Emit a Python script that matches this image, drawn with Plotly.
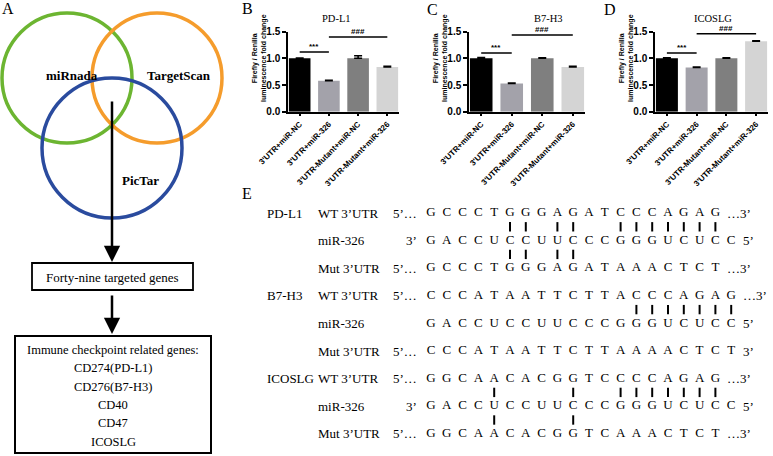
import plotly.graph_objects as go

W, H = 773, 456
SERIF = "Liberation Serif, Times New Roman, serif"
SANS = "Liberation Sans, Arial, sans-serif"

# ---- panels B-D: luciferase reporter assay ----
groups = ["3'UTR+miR-NC", "3'UTR+miR-326", "3'UTR-Mutant+miR-NC", "3'UTR-Mutant+miR-326"]
bar_colors = ["#000000", "#a3a2aa", "#7f7f7f", "#d4d4d4"]
genes = ["PD-L1", "B7-H3", "ICOSLG"]
pdl1_vals = [1.0, 0.58, 1.0, 0.84]
pdl1_err = [0.005, 0.01, 0.05, 0.01]
b7h3_vals = [1.0, 0.53, 1.0, 0.84]
b7h3_err = [0.015, 0.01, 0.01, 0.01]
icoslg_vals = [1.0, 0.83, 1.0, 1.32]
icoslg_err = [0.01, 0.01, 0.01, 0.01]
star_y = [1.12, 1.10, 1.10]
hash_y = [1.40, 1.44, 1.46]
y_ticks = [0.0, 0.5, 1.0, 1.5]

# ---- panel E: seed sequence alignment ----
seq_genes = ["PD-L1", "B7-H3", "ICOSLG"]
seq_labels = ["WT 3’UTR", "miR-326", "Mut 3’UTR"]
seq_pdl1 = ["GCCCTGGGAGATCCCAGAG", "GACCUCCUUCCCGGGUCUCC", "GCCCTGGGAGATAAACTCT"]
seq_b7h3 = ["CCCATAATTCTTACCCAGAG", "GACCUCCUUCCCGGGUCUCC", "CCCATAATTCTTAAAACTCT"]
seq_icoslg = ["GGCAACACGGTCCCCAGAG", "GACCUCCUUCCCGGGUCUCC", "GGCAACACGGTCAAACTCT"]
seq_left = [["5’…", "3’", "5’…"], ["5’…", "", "5’…"], ["5’…", "3’", "5’…"]]
seq_right = [["…3’", "5’", "…3’"], ["…3’", "5’", "3’"], ["…3’", "5’", "…3’"]]
pairs_wt = [[5, 6, 8, 9, 12, 13, 14, 15, 16, 17, 18],
            [13, 14, 15, 16, 17, 18, 19],
            [4, 9, 12, 13, 14, 15, 16, 17, 18]]
pairs_mut = [[5, 6, 8, 9], [], [4, 9]]

# ---- panel A: target prediction ----
venn_names = ["miRnada", "TargetScan", "PicTar"]
venn_colors = ["#6cb531", "#f59c2c", "#2a4b9e"]
gene_list = ["Immune checkpoint related genes:", "CD274(PD-L1)", "CD276(B7-H3)",
             "CD40", "CD47", "ICOSLG"]


def fx(p):
    return p / W


def fy(p):
    return 1 - p / H


def note(x, y, text, size, family=SERIF, bold=False, **kw):
    f = dict(family=family, size=size, color="black")
    if bold:
        f["weight"] = "bold"
    d = dict(x=x, y=y, xref="paper", yref="paper", text=text, showarrow=False,
             xanchor="center", yanchor="middle", font=f)
    d.update(kw)
    return d


fig = go.Figure()
shapes, annotations = [], []

# bar charts
panel_px = [(288, 399), (469, 585), (655, 768)]
title_px = [336, 548, 713]
vals_all = [pdl1_vals, b7h3_vals, icoslg_vals]
err_all = [pdl1_err, b7h3_err, icoslg_err]
for i in range(3):
    n = "" if i == 0 else str(i + 1)
    xa, ya = "x" + n, "y" + n
    fig.add_trace(go.Bar(
        x=[0, 1, 2, 3], y=vals_all[i], width=0.74,
        marker=dict(color=bar_colors, line=dict(width=0)),
        error_y=dict(type="data", array=err_all[i], arrayminus=[0] * 4,
                     symmetric=False, thickness=1.5, width=4, color="black"),
        xaxis=xa, yaxis=ya, hoverinfo="skip"))
    # significance brackets
    fig.add_trace(go.Scatter(x=[0, 1], y=[star_y[i]] * 2, mode="lines",
                             line=dict(color="black", width=1.5), xaxis=xa, yaxis=ya))
    fig.add_trace(go.Scatter(x=[1, 3], y=[hash_y[i]] * 2, mode="lines",
                             line=dict(color="black", width=1.5), xaxis=xa, yaxis=ya))
    for xm, ym, t in [(0.5, star_y[i], "***"), (2, hash_y[i], "###")]:
        annotations.append(dict(x=xm, y=ym, xref=xa, yref=ya, text=t,
                                showarrow=False, xanchor="center", yanchor="bottom",
                                yshift=-1,
                                font=dict(family=SANS, size=8, color="black", weight="bold")))
    x0, x1 = panel_px[i]
    fig.update_layout(**{
        "xaxis" + n: dict(domain=[fx(x0), fx(x1)], range=[-0.4, 3.4], anchor=ya,
                          tickvals=[0, 1, 2, 3], ticktext=groups, tickangle=-45,
                          tickfont=dict(family=SANS, size=8, color="black", weight="bold"),
                          showline=True, linecolor="black", linewidth=1.5,
                          ticks="outside", ticklen=3, tickwidth=1.5, tickcolor="black",
                          showgrid=False, zeroline=False, fixedrange=True,
                          automargin=False),
        "yaxis" + n: dict(domain=[fy(111.7), fy(31.7)], range=[0, 1.5], anchor=xa,
                          tickvals=y_ticks, ticktext=[f"{v:.1f}" for v in y_ticks],
                          tickfont=dict(family=SANS, size=10, color="black", weight="bold"),
                          showline=True, linecolor="black", linewidth=1.5,
                          ticks="outside", ticklen=4, tickwidth=1.5, tickcolor="black",
                          showgrid=False, zeroline=False, fixedrange=True,
                          automargin=False),
    })
    annotations.append(note(fx(title_px[i]), fy(18), genes[i], 10.5))
    annotations.append(note(fx(x0 - 29), fy(58),
                            "Firefly / Renilla<br>luminescence fold change", 7,
                            family=SANS, bold=True, textangle=-90))

# sequence alignment (column index / row index axes)
X0, DX, Y0, DY = 431, 15.8, 213, 27.6


def col(p):
    return (p - X0) / DX


def row(p):
    return (p - Y0) / DY


fig.update_layout(
    xaxis4=dict(domain=[fx(260), 1], range=[col(260), col(773)], visible=False,
                anchor="y4", fixedrange=True, automargin=False),
    yaxis4=dict(domain=[0, fy(190)], range=[row(456), row(190)], visible=False,
                anchor="x4", fixedrange=True, automargin=False),
)
seq_all = [seq_pdl1, seq_b7h3, seq_icoslg]
lx, ly, lt = [], [], []
bx, by = [], []
seq_font = dict(family=SERIF, size=13, color="black")
for g in range(3):
    for k in range(3):
        r = g * 3 + k
        s = seq_all[g][k]
        for c, ch in enumerate(s):
            lx.append(c)
            ly.append(r)
            lt.append(ch)
        if k == 0:
            annotations.append(dict(x=col(265), y=r, xref="x4", yref="y4", text=seq_genes[g],
                                    xanchor="left", yanchor="middle", showarrow=False,
                                    font=seq_font))
        annotations.append(dict(x=col(316), y=r, xref="x4", yref="y4", text=seq_labels[k],
                                xanchor="left", yanchor="middle", showarrow=False,
                                font=seq_font))
        if seq_left[g][k]:
            annotations.append(dict(x=-0.75, y=r, xref="x4", yref="y4", text=seq_left[g][k],
                                    xanchor="right", yanchor="middle", showarrow=False,
                                    font=seq_font))
        annotations.append(dict(x=len(s) - 1 + 0.6, y=r, xref="x4", yref="y4",
                                text=seq_right[g][k], xanchor="left", yanchor="middle",
                                showarrow=False, font=seq_font))
    for c in pairs_wt[g]:
        bx += [c, c, None]
        by += [g * 3 + 0.33, g * 3 + 0.67, None]
    for c in pairs_mut[g]:
        bx += [c, c, None]
        by += [g * 3 + 1.33, g * 3 + 1.67, None]

fig.add_trace(go.Scatter(x=lx, y=ly, text=lt, mode="text", textposition="middle center",
                         textfont=seq_font, xaxis="x4", yaxis="y4", hoverinfo="skip"))
fig.add_trace(go.Scatter(x=bx, y=by, mode="lines", line=dict(color="black", width=2),
                         xaxis="x4", yaxis="y4", hoverinfo="skip"))

# panel A: Venn diagram and flow
venn_circles = [(67, 78, 65), (157, 78, 65), (112, 148, 70)]
for (cx, cy, rr), colr in zip(venn_circles, venn_colors):
    shapes.append(dict(type="circle", xref="paper", yref="paper",
                       x0=fx(cx - rr), x1=fx(cx + rr), y0=fy(cy + rr), y1=fy(cy - rr),
                       line=dict(color=colr, width=3.5)))
for name, (tx, ty) in zip(venn_names, [(72, 75), (179, 75), (140, 180)]):
    annotations.append(note(fx(tx), fy(ty), name, 13, bold=True))

for tip, tail in [(262, 100), (334, 294)]:
    annotations.append(dict(x=fx(112), y=fy(tip), xref="paper", yref="paper",
                            ax=0, ay=tail - tip, axref="pixel", ayref="pixel", text="",
                            showarrow=True, arrowhead=2, arrowsize=1.3, arrowwidth=2.5,
                            arrowcolor="black", standoff=0))

shapes.append(dict(type="rect", xref="paper", yref="paper", x0=fx(32), x1=fx(193),
                   y0=fy(290), y1=fy(263), line=dict(color="black", width=1.8)))
annotations.append(note(fx(112.5), fy(277), "Forty-nine targeted genes", 13))
shapes.append(dict(type="rect", xref="paper", yref="paper", x0=fx(15), x1=fx(211),
                   y0=fy(453), y1=fy(336), line=dict(color="black", width=2)))
for j, t in enumerate(gene_list):
    annotations.append(note(fx(113), fy(350 + j * 18.3), t, 12.5))

# panel letters
for letter, (tx, ty) in zip("ABCDE", [(8, 8), (247, 8), (432, 9), (610, 9), (247, 193)]):
    annotations.append(note(fx(tx), fy(ty), letter, 16))

fig.update_layout(
    width=W, height=H, margin=dict(l=0, r=0, t=0, b=0, autoexpand=False),
    paper_bgcolor="white", plot_bgcolor="white", showlegend=False,
    shapes=shapes, annotations=annotations,
)

# page body has an 8px default margin; drop it so the figure fills the window
fig.write_html("out.html", config={"displayModeBar": False},
               post_script="document.body.style.margin='0';")
